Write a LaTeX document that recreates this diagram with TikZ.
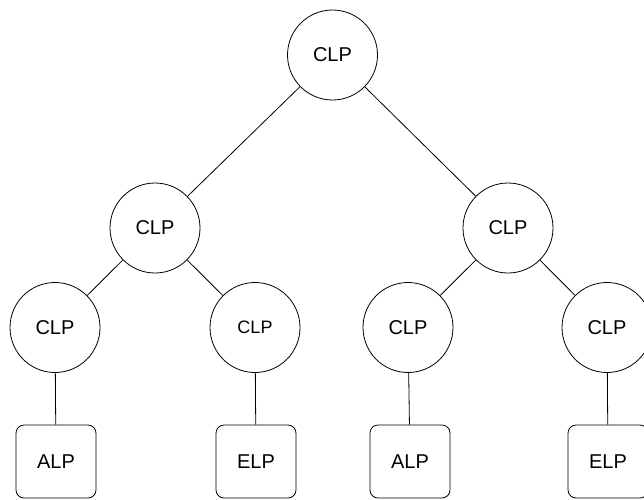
\documentclass[tikz,border=0pt]{standalone}
\usepackage{fontspec}
\setmainfont{Liberation Sans}
\usepackage{tikz}

\begin{document}
\begin{tikzpicture}[x=1pt, y=-1pt, font=\fontsize{20}{24}\selectfont,
  lp/.style={draw, circle, line width=0.8pt, minimum size=90pt, inner sep=0pt},
  leaf/.style={draw, rounded corners=8pt, line width=0.8pt, minimum width=80pt, minimum height=73pt, inner sep=0pt}]
  \clip (0,0) rectangle (644,499);
  \node[lp] (root) at (332.5,55) {CLP};
  \node[lp] (L) at (155,228) {CLP};
  \node[lp] (R) at (508,228) {CLP};
  \node[lp] (LL) at (55,327.5) {CLP};
  \node[lp, font=\fontsize{18}{22}\selectfont] (LR) at (255,327.5) {CLP};
  \node[lp] (RL) at (408,327.5) {CLP};
  \node[lp] (RR) at (607,327.5) {CLP};
  \node[leaf] (alpA) at (56,461.5) {ALP};
  \node[leaf] (elpA) at (256,461.5) {ELP};
  \node[leaf] (alpB) at (410,461.5) {ALP};
  \node[leaf] (elpB) at (608,461.5) {ELP};
  \draw[line width=0.8pt] (root) -- (L);
  \draw[line width=0.8pt] (root) -- (R);
  \draw[line width=0.8pt] (L) -- (LL);
  \draw[line width=0.8pt] (L) -- (LR);
  \draw[line width=0.8pt] (R) -- (RL);
  \draw[line width=0.8pt] (R) -- (RR);
  \draw[line width=0.8pt] (LL) -- (alpA);
  \draw[line width=0.8pt] (LR) -- (elpA);
  \draw[line width=0.8pt] (RL) -- (alpB);
  \draw[line width=0.8pt] (RR) -- (elpB);
\end{tikzpicture}
\end{document}
